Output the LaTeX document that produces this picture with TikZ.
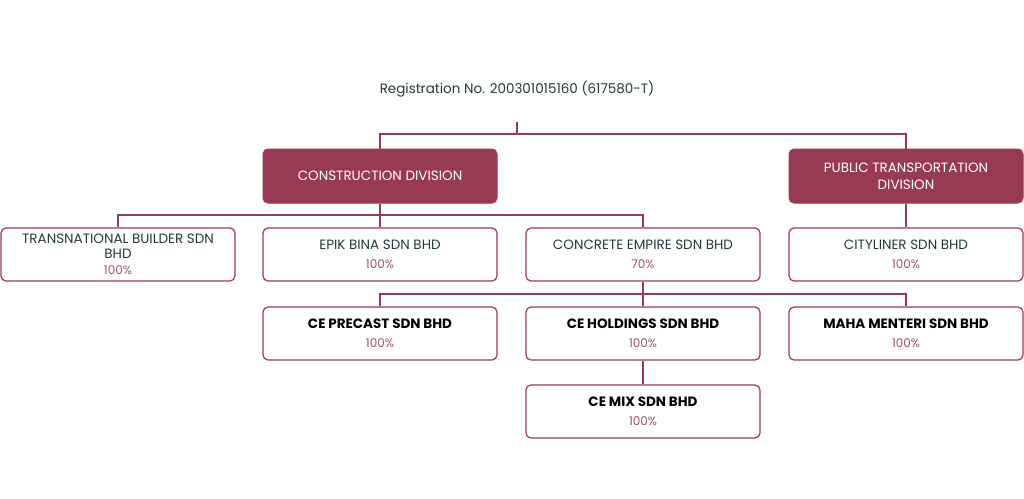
\documentclass[tikz,border=0pt]{standalone}
\usepackage{fontspec}
\setmainfont{Poppins}
\definecolor{wine}{HTML}{993A55}
\definecolor{slate}{HTML}{23393B}
\definecolor{rosy}{HTML}{A24F6A}
\newcommand{\pct}[1]{{\color{rosy}\fontsize{12}{14}\selectfont #1}}

\begin{document}
\begin{tikzpicture}[x = 1pt, y = -1pt,
    headbox/.style = {draw = wine, fill = wine, rounded corners = 5pt, line width = 1pt,
        minimum width = 234pt, minimum height = 54pt, align = center, text = white,
        font = \fontsize{13.5}{17}\selectfont},
    compbox/.style = {draw = wine, rounded corners = 5pt, line width = 1.2pt,
        minimum width = 234pt, minimum height = 53pt, align = center, text = slate,
        font = \fontsize{13.5}{15}\selectfont},
    subbox/.style = {compbox, text = black, font = \fontsize{13.5}{15}\selectfont\bfseries},
    link/.style = {draw = wine, line width = 1.2pt}]
    \useasboundingbox (0,0) rectangle (1024,498);
    % top
    \node[text = slate, font = \fontsize{13.5}{15}\selectfont] (reg) at (517,89) {Registration No. 200301015160 (617580-T)};
    \coordinate (root) at (517,122);
    \coordinate (bus0) at (517,134);
    % divisions
    \node[headbox] (cons) at (380,176) {CONSTRUCTION DIVISION};
    \node[headbox] (pt) at (906,176) {PUBLIC TRANSPORTATION\\DIVISION};
    % companies
    \node[compbox] (tb) at (118,254.5) {TRANSNATIONAL BUILDER SDN\\BHD\\[1pt]\pct{100\%}};
    \node[compbox] (epik) at (380,254.5) {EPIK BINA SDN BHD\\[4pt]\pct{100\%}};
    \node[compbox] (ce) at (643,254.5) {CONCRETE EMPIRE SDN BHD\\[4pt]\pct{70\%}};
    \node[compbox] (city) at (906,254.5) {CITYLINER SDN BHD\\[4pt]\pct{100\%}};
    \node[subbox] (pre) at (380,333.5) {CE PRECAST SDN BHD\\[4pt]\pct{\mdseries 100\%}};
    \node[subbox] (hold) at (643,333.5) {CE HOLDINGS SDN BHD\\[4pt]\pct{\mdseries 100\%}};
    \node[subbox] (maha) at (906,333.5) {MAHA MENTERI SDN BHD\\[4pt]\pct{\mdseries 100\%}};
    \node[subbox] (mix) at (643,411.5) {CE MIX SDN BHD\\[4pt]\pct{\mdseries 100\%}};
    % connectors
    \coordinate (bus1) at (380,215);
    \coordinate (bus2) at (643,294);
    \draw[link] (root) -- (bus0) -| (cons.north);
    \draw[link] (bus0) -| (pt.north);
    \draw[link] (cons.south) -- (epik.north);
    \draw[link] (tb.north) |- (bus1) -| (ce.north);
    \draw[link] (pt.south) -- (city.north);
    \draw[link] (ce.south) -- (hold.north);
    \draw[link] (pre.north) |- (bus2) -| (maha.north);
    \draw[link] (hold.south) -- (mix.north);
\end{tikzpicture}
\end{document}
